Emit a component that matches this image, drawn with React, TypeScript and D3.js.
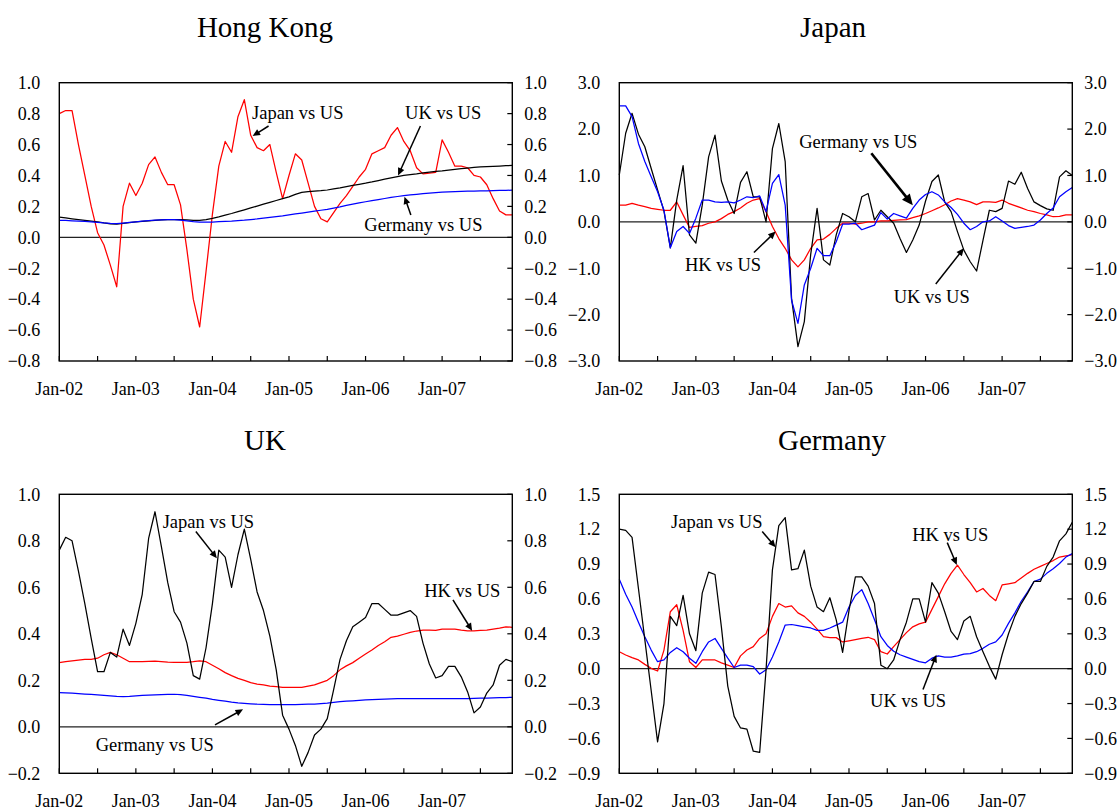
import React from 'react';
import * as d3 from 'd3';

// Monthly observations, Jan-2002 .. Dec-2007 (72 months)
const xLabels = ['Jan-02', 'Jan-03', 'Jan-04', 'Jan-05', 'Jan-06', 'Jan-07'];
const monthsPerYear = 12;
const lastMonth = 71;

// Hong Kong panel
const hkJapanVsUS = [
  0.80, 0.82, 0.82, 0.60, 0.40, 0.20, 0.03, -0.05, -0.18, -0.32, 0.20, 0.35,
  0.27, 0.35, 0.47, 0.52, 0.42, 0.34, 0.34, 0.21, -0.08, -0.40, -0.58, -0.22,
  0.15, 0.46, 0.62, 0.55, 0.78, 0.89, 0.66, 0.58, 0.56, 0.60, 0.42, 0.25,
  0.40, 0.54, 0.50, 0.35, 0.20, 0.12, 0.10, 0.16, 0.22, 0.27, 0.33, 0.39,
  0.44, 0.54, 0.56, 0.58, 0.66, 0.71, 0.62, 0.56, 0.45, 0.41, 0.415, 0.42,
  0.63, 0.55, 0.46, 0.46, 0.45, 0.40, 0.39, 0.34, 0.25, 0.17, 0.145, 0.145,
];
const hkUKVsUS = [
  0.130, 0.125, 0.120, 0.115, 0.110, 0.105, 0.100, 0.093, 0.087, 0.085, 0.090, 0.095,
  0.100, 0.103, 0.106, 0.110, 0.113, 0.115, 0.115, 0.114, 0.112, 0.110, 0.110, 0.115,
  0.122, 0.132, 0.143, 0.154, 0.166, 0.178, 0.190, 0.202, 0.214, 0.226, 0.238, 0.250,
  0.262, 0.278, 0.290, 0.295, 0.299, 0.302, 0.306, 0.313, 0.320, 0.328, 0.336, 0.343,
  0.350, 0.358, 0.367, 0.376, 0.385, 0.393, 0.400, 0.405, 0.410, 0.416, 0.421, 0.426,
  0.430, 0.435, 0.440, 0.444, 0.448, 0.452, 0.455, 0.457, 0.459, 0.461, 0.463, 0.465,
];
const hkGermanyVsUS = [
  0.110, 0.109, 0.107, 0.105, 0.103, 0.100, 0.097, 0.093, 0.090, 0.088, 0.092, 0.096,
  0.100, 0.104, 0.108, 0.111, 0.113, 0.115, 0.115, 0.111, 0.106, 0.101, 0.098, 0.098,
  0.099, 0.101, 0.103, 0.105, 0.108, 0.111, 0.115, 0.119, 0.124, 0.129, 0.134, 0.139,
  0.145, 0.151, 0.157, 0.163, 0.169, 0.175, 0.181, 0.189, 0.197, 0.206, 0.214, 0.222,
  0.230, 0.237, 0.244, 0.251, 0.258, 0.264, 0.270, 0.274, 0.278, 0.282, 0.286, 0.289,
  0.292, 0.294, 0.296, 0.297, 0.298, 0.299, 0.300, 0.301, 0.302, 0.303, 0.304, 0.305,
];

// Japan panel
const jpHKVsUS = [
  0.36, 0.36, 0.40, 0.36, 0.33, 0.29, 0.27, 0.25, 0.25, 0.43, 0.15, -0.12,
  -0.10, -0.08, -0.03, 0.00, 0.07, 0.16, 0.22, 0.30, 0.40, 0.47, 0.50, 0.22,
  -0.10, -0.36, -0.57, -0.82, -0.97, -0.82, -0.57, -0.39, -0.37, -0.27, -0.14, -0.03,
  -0.03, -0.05, -0.03, 0.00, 0.00, 0.02, 0.02, 0.03, 0.04, 0.05, 0.09, 0.13,
  0.18, 0.24, 0.30, 0.37, 0.45, 0.50, 0.47, 0.43, 0.37, 0.43, 0.43, 0.42,
  0.47, 0.40, 0.35, 0.30, 0.25, 0.22, 0.18, 0.15, 0.11, 0.12, 0.15, 0.15,
];
const jpUKVsUS = [
  1.01, 1.91, 2.34, 1.89, 1.62, 1.15, 0.69, 0.23, -0.56, 0.47, 1.21, -0.28,
  -0.46, 0.36, 1.40, 1.87, 0.88, 0.47, 0.18, 0.85, 1.08, 0.54, 0.54, 0.00,
  1.58, 2.12, 1.30, -1.65, -2.69, -2.15, -0.70, 0.29, -0.82, -0.93, -0.28, 0.18,
  0.11, 0.00, 0.54, 0.61, 0.04, 0.25, 0.11, -0.03, -0.36, -0.66, -0.39, -0.07,
  0.45, 0.87, 1.01, 0.43, 0.22, -0.21, -0.61, -0.86, -1.06, -0.40, 0.25, 0.22,
  0.29, 0.88, 0.81, 1.07, 0.72, 0.43, 0.35, 0.28, 0.25, 0.97, 1.10, 1.00,
];
const jpGermanyVsUS = [
  2.50, 2.50, 2.27, 1.69, 1.30, 0.97, 0.65, 0.25, -0.56, -0.21, -0.10, -0.25,
  0.08, 0.47, 0.47, 0.43, 0.42, 0.43, 0.41, 0.47, 0.54, 0.52, 0.56, 0.22,
  0.83, 1.02, 0.36, -1.69, -2.19, -1.36, -1.00, -0.57, -0.73, -0.73, -0.43, -0.05,
  -0.05, -0.03, -0.17, -0.12, -0.07, 0.20, 0.06, 0.18, 0.13, 0.08, 0.29, 0.47,
  0.59, 0.65, 0.58, 0.43, 0.31, 0.16, -0.03, -0.17, -0.10, 0.00, 0.02, 0.11,
  0.02, -0.08, -0.14, -0.12, -0.10, -0.07, 0.04, 0.18, 0.30, 0.54, 0.65, 0.74,
];

// UK panel
const ukJapanVsUS = [
  0.76, 0.815, 0.80, 0.67, 0.53, 0.38, 0.237, 0.237, 0.32, 0.30, 0.42, 0.35,
  0.445, 0.57, 0.81, 0.925, 0.775, 0.62, 0.495, 0.45, 0.36, 0.22, 0.205, 0.34,
  0.53, 0.76, 0.73, 0.60, 0.74, 0.85, 0.72, 0.58, 0.50, 0.39, 0.245, 0.05,
  -0.01, -0.08, -0.17, -0.11, -0.035, -0.01, 0.035, 0.16, 0.29, 0.37, 0.43, 0.45,
  0.47, 0.53, 0.53, 0.505, 0.48, 0.48, 0.49, 0.50, 0.475, 0.36, 0.27, 0.21,
  0.22, 0.26, 0.26, 0.215, 0.15, 0.06, 0.085, 0.145, 0.18, 0.265, 0.29, 0.28,
];
const ukHKVsUS = [
  0.276, 0.280, 0.284, 0.287, 0.290, 0.290, 0.295, 0.310, 0.320, 0.310, 0.295, 0.280,
  0.280, 0.280, 0.281, 0.282, 0.280, 0.278, 0.277, 0.277, 0.277, 0.280, 0.284, 0.280,
  0.265, 0.250, 0.233, 0.220, 0.208, 0.200, 0.190, 0.184, 0.180, 0.175, 0.173, 0.170,
  0.170, 0.170, 0.170, 0.175, 0.180, 0.190, 0.200, 0.220, 0.245, 0.262, 0.276, 0.295,
  0.313, 0.330, 0.350, 0.366, 0.385, 0.390, 0.398, 0.406, 0.412, 0.416, 0.416, 0.415,
  0.420, 0.420, 0.420, 0.416, 0.413, 0.413, 0.415, 0.416, 0.420, 0.424, 0.430, 0.428,
];
const ukGermanyVsUS = [
  0.147, 0.146, 0.145, 0.143, 0.141, 0.139, 0.137, 0.135, 0.133, 0.131, 0.130, 0.131,
  0.133, 0.135, 0.136, 0.137, 0.138, 0.139, 0.140, 0.138, 0.135, 0.131, 0.127, 0.123,
  0.118, 0.114, 0.110, 0.106, 0.103, 0.101, 0.099, 0.097, 0.096, 0.095, 0.095, 0.095,
  0.095, 0.095, 0.096, 0.097, 0.098, 0.100, 0.102, 0.105, 0.108, 0.110, 0.112, 0.114,
  0.116, 0.117, 0.118, 0.119, 0.120, 0.121, 0.121, 0.121, 0.121, 0.121, 0.121, 0.121,
  0.121, 0.121, 0.121, 0.121, 0.121, 0.122, 0.123, 0.123, 0.124, 0.125, 0.126, 0.127,
];

// Germany panel
const deJapanVsUS = [
  1.20, 1.19, 1.13, 0.69, 0.25, -0.19, -0.63, -0.30, 0.45, 0.37, 0.63, 0.30,
  0.155, 0.65, 0.83, 0.81, 0.36, -0.15, -0.41, -0.51, -0.52, -0.71, -0.72, -0.01,
  0.85, 1.23, 1.30, 0.85, 0.86, 1.02, 0.71, 0.53, 0.49, 0.61, 0.42, 0.14,
  0.50, 0.79, 0.79, 0.71, 0.56, 0.03, 0.00, 0.075, 0.25, 0.40, 0.60, 0.60,
  0.40, 0.74, 0.65, 0.49, 0.32, 0.25, 0.41, 0.45, 0.275, 0.146, 0.02, -0.09,
  0.12, 0.30, 0.45, 0.56, 0.65, 0.75, 0.75, 0.88, 0.96, 1.10, 1.16, 1.26,
];
const deHKVsUS = [
  0.146, 0.118, 0.095, 0.075, 0.037, 0.003, -0.02, 0.16, 0.49, 0.55, 0.33, 0.06,
  0.01, 0.075, 0.075, 0.075, 0.05, 0.03, 0.01, 0.11, 0.16, 0.19, 0.26, 0.30,
  0.45, 0.56, 0.53, 0.54, 0.48, 0.45, 0.40, 0.34, 0.275, 0.267, 0.267, 0.23,
  0.24, 0.25, 0.26, 0.27, 0.25, 0.146, 0.126, 0.19, 0.25, 0.31, 0.36, 0.385,
  0.40, 0.51, 0.62, 0.73, 0.82, 0.89, 0.81, 0.74, 0.66, 0.69, 0.63, 0.585,
  0.72, 0.73, 0.74, 0.78, 0.82, 0.855, 0.88, 0.905, 0.93, 0.96, 0.97, 0.98,
];
const deUKVsUS = [
  0.77, 0.64, 0.53, 0.40, 0.275, 0.16, 0.06, 0.075, 0.14, 0.18, 0.146, 0.09,
  0.046, 0.146, 0.23, 0.26, 0.175, 0.09, 0.01, 0.03, 0.03, 0.017, -0.046, -0.01,
  0.10, 0.23, 0.375, 0.38, 0.37, 0.36, 0.35, 0.33, 0.33, 0.35, 0.375, 0.40,
  0.53, 0.63, 0.68, 0.56, 0.42, 0.275, 0.20, 0.15, 0.12, 0.10, 0.08, 0.06,
  0.05, 0.09, 0.11, 0.10, 0.10, 0.11, 0.126, 0.13, 0.146, 0.175, 0.21, 0.23,
  0.29, 0.39, 0.48, 0.58, 0.66, 0.75, 0.77, 0.82, 0.86, 0.905, 0.96, 0.99,
];

const RED = '#ff0000';
const BLUE = '#0000ff';
const BLACK = '#000000';
const FONT = '"Liberation Serif", "Times New Roman", Times, serif';

type Series = { values: number[]; color: string };
type Note = {
  label: string;
  at: [number, number]; // text start: [month, value]
  from: [number, number];
  to: [number, number];
  bold?: boolean;
};
type PanelSpec = {
  title: string;
  titleX: number;
  titleY: number;
  left: number;
  top: number;
  height: number;
  domain: [number, number];
  step: number;
  series: Series[];
  notes: Note[];
};

const PLOT_W = 453;

const panels: PanelSpec[] = [
  {
    title: 'Hong Kong', titleX: 265, titleY: 37,
    left: 59.3, top: 82.7, height: 278.3,
    domain: [-0.8, 1.0], step: 0.2,
    series: [
      { values: hkJapanVsUS, color: RED },
      { values: hkUKVsUS, color: BLACK },
      { values: hkGermanyVsUS, color: BLUE },
    ],
    notes: [
      { label: 'Japan vs US', at: [30.2, 0.81], from: [32.8, 0.72], to: [30.3, 0.655] },
      { label: 'UK vs US', at: [54.2, 0.81], from: [56.6, 0.72], to: [53.1, 0.40] },
      { label: 'Germany vs US', at: [47.8, 0.08], from: [55.1, 0.144], to: [54.1, 0.263] },
    ],
  },
  {
    title: 'Japan', titleX: 833, titleY: 37,
    left: 619.3, top: 82.7, height: 278.3,
    domain: [-3, 3], step: 1,
    series: [
      { values: jpHKVsUS, color: RED },
      { values: jpUKVsUS, color: BLACK },
      { values: jpGermanyVsUS, color: BLUE },
    ],
    notes: [
      { label: 'Germany vs US', at: [28.2, 1.74], from: [39.5, 1.48], to: [46.0, 0.36], bold: true },
      { label: 'HK vs US', at: [10.3, -0.93], from: [21.1, -0.66], to: [24.5, -0.21] },
      { label: 'UK vs US', at: [43.0, -1.6], from: [49.6, -1.34], to: [54.0, -0.57] },
    ],
  },
  {
    title: 'UK', titleX: 265, titleY: 450,
    left: 59.3, top: 494.3, height: 279,
    domain: [-0.2, 1.0], step: 0.2,
    series: [
      { values: ukHKVsUS, color: RED },
      { values: ukGermanyVsUS, color: BLUE },
      { values: ukJapanVsUS, color: BLACK },
    ],
    notes: [
      { label: 'Japan vs US', at: [16.2, 0.885], from: [21.4, 0.84], to: [24.7, 0.725] },
      { label: 'HK vs US', at: [57.2, 0.584], from: [61.7, 0.546], to: [64.7, 0.413] },
      { label: 'Germany vs US', at: [5.7, -0.078], from: [24.4, 0.008], to: [28.8, 0.075] },
    ],
  },
  {
    title: 'Germany', titleX: 832, titleY: 450,
    left: 619.3, top: 494.3, height: 279,
    domain: [-0.9, 1.5], step: 0.3,
    series: [
      { values: deHKVsUS, color: RED },
      { values: deUKVsUS, color: BLUE },
      { values: deJapanVsUS, color: BLACK },
    ],
    notes: [
      { label: 'Japan vs US', at: [8.1, 1.27], from: [22.4, 1.18], to: [24.5, 1.044] },
      { label: 'HK vs US', at: [45.9, 1.158], from: [51.4, 1.084], to: [52.9, 0.892] },
      { label: 'UK vs US', at: [39.3, -0.27], from: [47.6, -0.18], to: [49.7, 0.12] },
    ],
  },
];

function Arrow({ x1, y1, x2, y2, bold }: { x1: number; y1: number; x2: number; y2: number; bold?: boolean }) {
  const head = bold ? 11 : 7.5;
  const halfW = bold ? 5 : 3.4;
  const dx = x2 - x1;
  const dy = y2 - y1;
  const len = Math.hypot(dx, dy);
  const ux = dx / len;
  const uy = dy / len;
  const bx = x2 - ux * head;
  const by = y2 - uy * head;
  const pts = [
    [x2, y2],
    [bx - uy * halfW, by + ux * halfW],
    [bx + uy * halfW, by - ux * halfW],
  ]
    .map((p) => p.join(','))
    .join(' ');
  return (
    <g>
      <line x1={x1} y1={y1} x2={bx + ux * 1} y2={by + uy * 1} stroke="#000" strokeWidth={bold ? 2.6 : 1.5} />
      <polygon points={pts} fill="#000" />
    </g>
  );
}

function Panel({ spec }: { spec: PanelSpec }) {
  const { left, top, height, domain, step } = spec;
  const x = d3.scaleLinear().domain([0, lastMonth]).range([0, PLOT_W]);
  const y = d3.scaleLinear().domain(domain).range([height, 0]);
  const nTicks = Math.round((domain[1] - domain[0]) / step);
  const yTicks = d3.range(nTicks + 1).map((k) => +(domain[0] + k * step).toFixed(4));
  const halfYears = d3.range(0, lastMonth + 1, monthsPerYear / 2);
  const fmt = d3.format('.1f');
  const line = d3
    .line<number>()
    .x((_, i) => x(i))
    .y((v) => y(v));

  return (
    <g>
      <text x={spec.titleX} y={spec.titleY} textAnchor="middle" fontFamily={FONT} fontSize={29}>
        {spec.title}
      </text>
      <g transform={`translate(${left},${top})`}>
        {/* zero reference line */}
        <line x1={0} x2={PLOT_W} y1={y(0)} y2={y(0)} stroke="#222" strokeWidth={1.2} />
        {spec.series.map((s, i) => (
          <path key={i} d={line(s.values) || ''} fill="none" stroke={s.color} strokeWidth={1.25} strokeLinejoin="round" />
        ))}
        {/* frame */}
        <rect x={0} y={0} width={PLOT_W} height={height} fill="none" stroke="#000" strokeWidth={1.4} />
        {/* right axis inward ticks */}
        {yTicks.map((t) => (
          <line key={'rt' + t} x1={PLOT_W - 5} x2={PLOT_W} y1={y(t)} y2={y(t)} stroke="#000" strokeWidth={1.2} />
        ))}
        {/* bottom axis inward ticks every half year */}
        {halfYears.map((m) => (
          <line key={'bt' + m} x1={x(m)} x2={x(m)} y1={height - 5} y2={height} stroke="#000" strokeWidth={1.2} />
        ))}
        {yTicks.map((t) => (
          <text key={'l' + t} x={-19} y={y(t)} dy="0.35em" textAnchor="end" fontFamily={FONT} fontSize={18}>
            {fmt(t)}
          </text>
        ))}
        {yTicks.map((t) => (
          <text key={'r' + t} x={PLOT_W + 12} y={y(t)} dy="0.35em" textAnchor="start" fontFamily={FONT} fontSize={18}>
            {fmt(t)}
          </text>
        ))}
        {xLabels.map((lab, k) => (
          <text key={lab} x={x(k * monthsPerYear)} y={height + 34} textAnchor="middle" fontFamily={FONT} fontSize={18}>
            {lab}
          </text>
        ))}
        {spec.notes.map((n) => (
          <g key={n.label}>
            <text x={x(n.at[0])} y={y(n.at[1])} dy="0.35em" fontFamily={FONT} fontSize={18.5}>
              {n.label}
            </text>
            <Arrow x1={x(n.from[0])} y1={y(n.from[1])} x2={x(n.to[0])} y2={y(n.to[1])} bold={n.bold} />
          </g>
        ))}
      </g>
    </g>
  );
}

export default function App() {
  return (
    <svg
      width={1117}
      height={810}
      viewBox="0 0 1117 810"
      style={{ position: 'absolute', left: 0, top: 0, display: 'block', background: '#fff' }}
    >
      <rect width={1117} height={810} fill="#fff" />
      {panels.map((p) => (
        <Panel key={p.title} spec={p} />
      ))}
    </svg>
  );
}
